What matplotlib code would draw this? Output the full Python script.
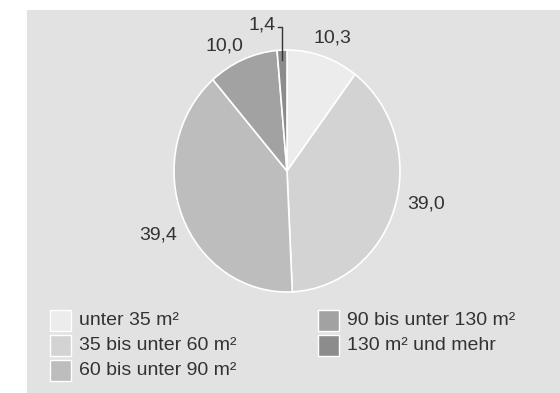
import matplotlib.pyplot as plt
from matplotlib.patches import Rectangle

# Daten
kategorien = ["unter 35 m²", "35 bis unter 60 m²", "60 bis unter 90 m²",
              "90 bis unter 130 m²", "130 m² und mehr"]
anteile = [10.3, 39.0, 39.4, 10.0, 1.4]
beschriftung = ["10,3", "39,0", "39,4", "10,0", "1,4"]
farben = ["#ececec", "#d3d3d3", "#bdbdbd", "#a2a2a2", "#8c8c8c"]

plt.rcParams["font.family"] = ["Liberation Sans", "DejaVu Sans"]
W, H = 560, 393
fig = plt.figure(figsize=(W / 100, H / 100), dpi=100)
fig.patch.set_facecolor("white")

# grauer Hintergrund
fig.patches.append(Rectangle((27 / W, 0), 1 - 27 / W, (H - 10) / H,
                             transform=fig.transFigure, facecolor="#e2e2e2",
                             edgecolor="none", zorder=-5))

# Kreisdiagramm (leicht oval wie im Original)
cx, cy, rx, ry = 287, 171, 113, 121
ax = fig.add_axes([(cx - rx) / W, (H - cy - ry) / H, 2 * rx / W, 2 * ry / H])
ax.set_zorder(1)
ax.set_facecolor("none")
wedges, _ = ax.pie(anteile, colors=farben, startangle=90, counterclock=False,
                   radius=1, wedgeprops=dict(edgecolor="white", linewidth=1.2))
ax.set_xlim(-1, 1)
ax.set_ylim(-1, 1)
ax.set_aspect("auto")
ax.axis("off")

# Werte
pos = [(0.40, 1.10), (1.23, -0.27), (-1.14, -0.53), (-0.55, 1.03)]
for (x, y), txt in zip(pos, beschriftung[:4]):
    ax.text(x, y, txt, ha="center", va="center", fontsize=14,
            color="#333333", clip_on=False)

# 1,4 mit Hinweislinie
ax.plot([-0.04, -0.04, -0.08], [0.92, 1.19, 1.19], color="#333333",
        linewidth=1, clip_on=False)
ax.text(-0.1, 1.21, beschriftung[4], ha="right", va="center", fontsize=14,
        color="#333333", clip_on=False)

# Legende
spalten_x = [50, 50, 50, 318, 318]
zeilen_y = [310, 335, 360, 310, 335]
s = 21
for k, f, lx, ly in zip(kategorien, farben, spalten_x, zeilen_y):
    fig.patches.append(Rectangle((lx / W, (H - ly - s) / H), s / W, s / H,
                                 transform=fig.transFigure, facecolor=f,
                                 edgecolor="white", linewidth=1, zorder=2))
    fig.text((lx + 29) / W, (H - ly - s / 2) / H, k, ha="left", va="center",
             fontsize=14, color="#333333")

fig.savefig("out.png", dpi=100)
